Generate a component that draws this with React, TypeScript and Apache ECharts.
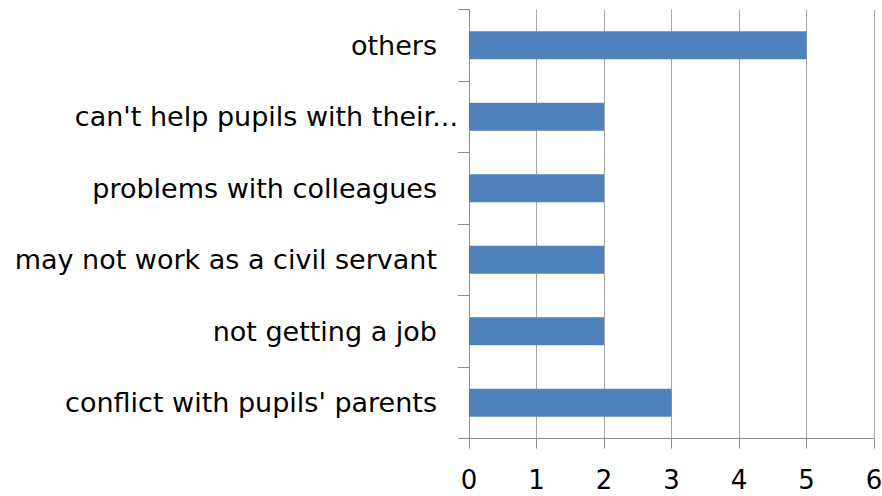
import React, { useEffect, useRef } from "react";
import * as echarts from "echarts";

const categories = [
  "others",
  "can't help pupils with their...",
  "problems with colleagues",
  "may not work as a civil servant",
  "not getting a job",
  "conflict with pupils' parents",
];
const values = [5, 2, 2, 2, 2, 3];
const truncatedLabel = "can't help pupils with their...";

const FONT = "DejaVu Sans";

export default function App() {
  const ref = useRef<HTMLDivElement>(null);
  useEffect(() => {
    const chart = echarts.init(ref.current!, null, { renderer: "svg" });
    chart.setOption({
      animation: false,
      grid: { left: 469, right: 8, top: 9.5, bottom: 57.5, outerBoundsMode: "none", containLabel: false },
      xAxis: {
        type: "value",
        min: 0,
        max: 6,
        interval: 1,
        axisLine: { show: true, lineStyle: { color: "#8c8c8c", width: 1 } },
        axisTick: { show: true, length: 10, lineStyle: { color: "#8c8c8c" } },
        splitLine: { show: true, lineStyle: { color: "#a6a6a6", width: 1 } },
        axisLabel: { fontFamily: FONT, fontSize: 26, color: "#000", margin: 28 },
      },
      yAxis: {
        type: "category",
        data: categories,
        inverse: true,
        axisLine: { show: true, lineStyle: { color: "#8c8c8c", width: 1 } },
        axisTick: { show: true, length: 11, lineStyle: { color: "#8c8c8c" } },
        splitLine: { show: false },
        axisLabel: {
          margin: 11,
          formatter: (v: string) => (v === truncatedLabel ? `{b|${v}}` : `{a|${v}}`),
          rich: {
            a: { fontFamily: FONT, fontSize: 27, color: "#000", padding: [0, 21, 0, 0] },
            b: { fontFamily: FONT, fontSize: 27, color: "#000" },
          },
        },
      },
      series: [
        {
          type: "bar",
          data: values,
          barWidth: 28,
          itemStyle: { color: "#4f81bd" },
        },
      ],
    });
    return () => chart.dispose();
  }, []);
  return <div ref={ref} style={{ width: 882, height: 496, position: "absolute", left: 0, top: 0 }} />;
}
